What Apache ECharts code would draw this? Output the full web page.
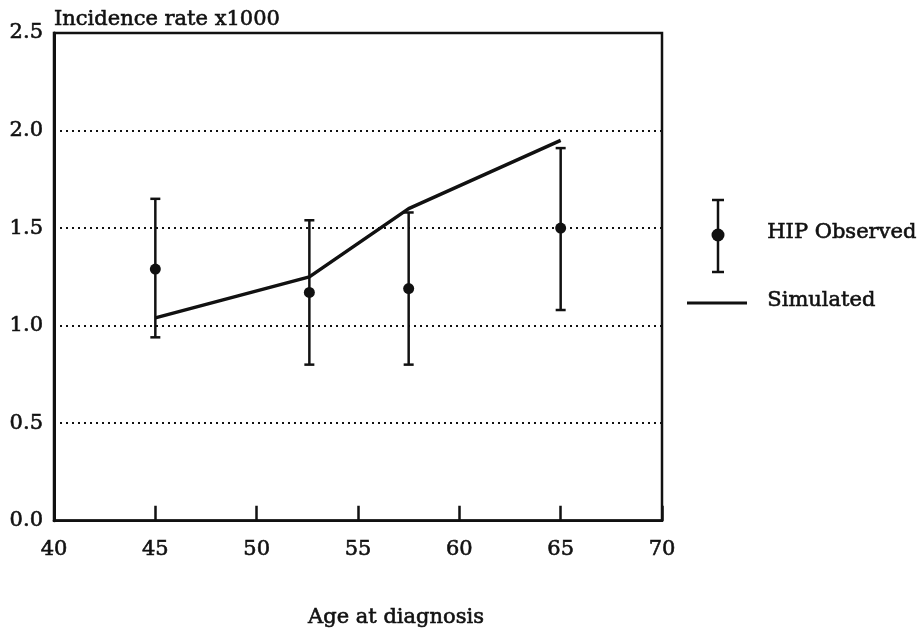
<!DOCTYPE html>
<html>
<head>
<meta charset="utf-8">
<script src="https://cdn.jsdelivr.net/npm/echarts@6/dist/echarts.min.js"></script>
<style>
  html, body { margin: 0; padding: 0; background: #fff; }
  #chart { width: 921px; height: 633px; }
</style>
</head>
<body>
<div id="chart"></div>
<script>
// Observed incidence (HIP) with confidence limits, and the simulated curve
const observedAge   = [45, 52.6, 57.5, 65];
const observedRate  = [1.29, 1.17, 1.19, 1.50];
const observedLow   = [0.94, 0.80, 0.80, 1.08];
const observedHigh  = [1.65, 1.54, 1.58, 1.91];

const simulatedAge  = [45, 52.6, 57.5, 65];
const simulatedRate = [1.04, 1.25, 1.60, 1.95];

const xTicks = [40, 45, 50, 55, 60, 65, 70];
const yTicks = [0, 0.5, 1.0, 1.5, 2.0, 2.5];

const FONT = 'DejaVu Serif';
const INK = '#111';
const SIZE = 21;
// slight outline to give the type a heavier, printed look
const heavy = { textBorderColor: INK, textBorderWidth: 0.6 };

const chart = echarts.init(document.getElementById('chart'));

const errorData = observedAge.map((a, i) => [a, observedLow[i], observedHigh[i]]);
const pointData = observedAge.map((a, i) => [a, observedRate[i]]);
const simData = simulatedAge.map((a, i) => [a, simulatedRate[i]]);

chart.setOption({
  animation: false,
  backgroundColor: '#fff',
  grid: {
    left: 54, right: 259, top: 33, bottom: 101,
    show: true, borderColor: INK, borderWidth: 2.5, backgroundColor: 'transparent'
  },
  xAxis: {
    type: 'value',
    min: xTicks[0], max: xTicks[xTicks.length - 1], interval: 5,
    name: 'Age at diagnosis',
    nameLocation: 'middle',
    nameGap: 86,
    nameTextStyle: Object.assign({ fontFamily: FONT, fontSize: SIZE, color: INK, padding: [0, 0, 0, 76] }, heavy),
    axisLine: { show: true, lineStyle: { color: INK, width: 2.5 } },
    axisTick: { show: true, inside: true, length: 15, lineStyle: { color: INK, width: 2.5 } },
    axisLabel: Object.assign({ fontFamily: FONT, fontSize: SIZE, color: INK, margin: 18 }, heavy),
    splitLine: { show: false }
  },
  yAxis: {
    type: 'value',
    min: yTicks[0], max: yTicks[yTicks.length - 1], interval: 0.5,
    name: 'Incidence rate x1000',
    nameLocation: 'end',
    nameGap: 3,
    nameTextStyle: Object.assign({ fontFamily: FONT, fontSize: SIZE, color: INK, align: 'left', verticalAlign: 'bottom' }, heavy),
    axisLine: { show: true, lineStyle: { color: INK, width: 3 } },
    axisTick: { show: false },
    axisLabel: Object.assign({
      fontFamily: FONT, fontSize: SIZE, color: INK, margin: 11, padding: [6, 0, 0, 0],
      formatter: v => v.toFixed(1)
    }, heavy),
    splitLine: { show: true, lineStyle: { color: INK, width: 2, type: [2, 4] } }
  },
  series: [
    {
      name: 'Simulated',
      type: 'line',
      data: simData,
      symbol: 'none',
      lineStyle: { color: INK, width: 3.5 },
      z: 3
    },
    {
      name: 'HIP Observed bars',
      type: 'custom',
      data: errorData,
      renderItem: (params, api) => {
        const x = api.value(0);
        const lo = api.coord([x, api.value(1)]);
        const hi = api.coord([x, api.value(2)]);
        const cap = 5;
        const style = { stroke: INK, lineWidth: 2.5 };
        return {
          type: 'group',
          children: [
            { type: 'line', shape: { x1: lo[0], y1: lo[1], x2: hi[0], y2: hi[1] }, style },
            { type: 'line', shape: { x1: hi[0] - cap, y1: hi[1], x2: hi[0] + cap, y2: hi[1] }, style },
            { type: 'line', shape: { x1: lo[0] - cap, y1: lo[1], x2: lo[0] + cap, y2: lo[1] }, style }
          ]
        };
      },
      z: 4
    },
    {
      name: 'HIP Observed',
      type: 'scatter',
      data: pointData,
      symbol: 'circle',
      symbolSize: 11,
      itemStyle: { color: INK, opacity: 1 },
      z: 5
    }
  ],
  graphic: [
    // legend: error bar with point
    { type: 'line', shape: { x1: 718, y1: 200, x2: 718, y2: 272 }, style: { stroke: INK, lineWidth: 2.5 } },
    { type: 'line', shape: { x1: 712, y1: 200, x2: 724, y2: 200 }, style: { stroke: INK, lineWidth: 2.5 } },
    { type: 'line', shape: { x1: 712, y1: 272, x2: 724, y2: 272 }, style: { stroke: INK, lineWidth: 2.5 } },
    { type: 'circle', shape: { cx: 718, cy: 235, r: 6.5 }, style: { fill: INK } },
    { type: 'text', left: 767, top: 222, style: Object.assign({ text: 'HIP Observed', font: SIZE + 'px "DejaVu Serif"', fill: INK, stroke: INK, lineWidth: 0.6 }) },
    // legend: simulated line
    { type: 'line', shape: { x1: 687, y1: 303, x2: 747, y2: 303 }, style: { stroke: INK, lineWidth: 3 } },
    { type: 'text', left: 767, top: 290, style: { text: 'Simulated', font: SIZE + 'px "DejaVu Serif"', fill: INK, stroke: INK, lineWidth: 0.6 } }
  ]
});
</script>
</body>
</html>
